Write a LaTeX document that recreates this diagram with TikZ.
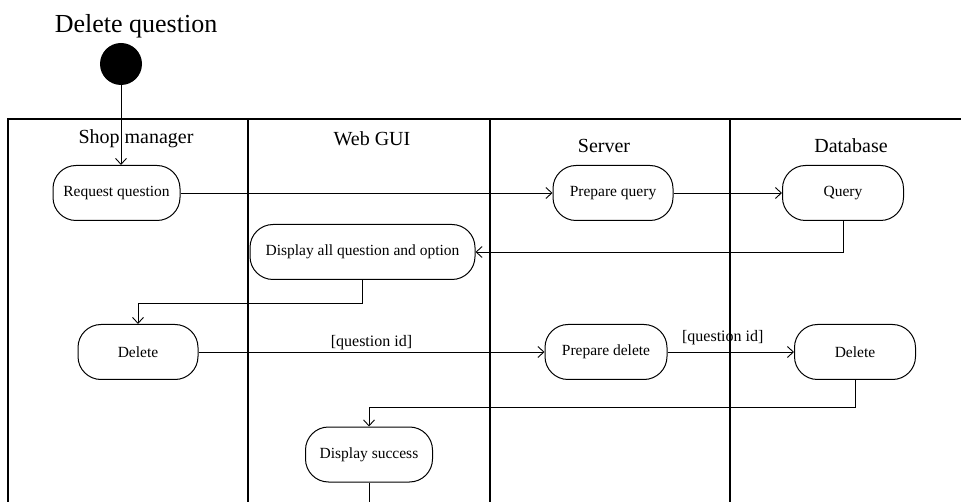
\documentclass[tikz,border=0pt]{standalone}
\usepackage{fontspec}
\setmainfont{Liberation Serif}
\usepackage{tikz}
\usetikzlibrary{arrows.meta,positioning,calc}

\tikzset{
  activity/.style={draw, line width=1pt, rounded corners=23pt, minimum height=55pt, inner sep=2pt, font=\fontsize{15.5}{18}\selectfont},
  lane/.style={line width=1.5pt},
  header/.style={font=\fontsize{20}{24}\selectfont},
  flow/.style={line width=0.9pt, -{Straight Barb[length=6pt,width=11pt]}},
  guard/.style={font=\fontsize{16}{19}\selectfont, inner sep=2pt},
}

\begin{document}
\begin{tikzpicture}[x=10pt, y=-10pt]
        \useasboundingbox (0,0) rectangle (96.1,50.2);
        % Title and start
        \node (title) at (13.6,2.6) {\fontsize{26}{30}\selectfont Delete question};
        \node[circle, fill, minimum size=42pt, inner sep=0pt] (start) at (12.1,6.4) {};
        % Swimlanes
        \draw[lane] (0.8,50.2) -- (0.8,11.9) -- (96.1,11.9);
        \foreach \x in {24.8,49.0,73.0} \draw[lane] (\x,11.9) -- (\x,50.2);
        \node[header] (hshop) at (13.6,13.9) {Shop manager};
        \node[header] (hweb) at (37.2,13.9) {Web GUI};
        \node[header] (hserver) at (60.4,14.6) {Server};
        \node[header] (hdb) at (85.1,14.6) {Database};
        % Activities
        \node[activity, minimum width=127pt] (request) at (11.65,19.3) {Request question};
        \node[activity, minimum width=120pt] (prepquery) at (61.3,19.3) {Prepare query};
        \node[activity, minimum width=121pt] (query) at (84.3,19.3) {Query};
        \node[activity, minimum width=225pt] (display) at (36.25,25.2) {Display all question and option};
        \node[activity, minimum width=120pt] (delshop) at (13.8,35.2) {Delete};
        \node[activity, minimum width=122pt] (prepdelete) at (60.6,35.2) {Prepare delete};
        \node[activity, minimum width=121pt] (deldb) at (85.5,35.2) {Delete};
        \node[activity, minimum width=127pt] (success) at (36.9,45.45) {Display success};
        \coordinate (exit) at (36.9,50.2);
        % Flows
        \draw[flow] (start) -- (start |- request.north);
        \draw[flow] (request) -- (prepquery);
        \draw[flow] (prepquery) -- (query);
        \draw[flow] (query.south) |- (display.east);
        \draw[flow] (display.south) -- ++(0,2.3) -| (delshop.north);
        \draw[flow] (delshop) -- node[guard, above] {[question id]} (prepdelete);
        \draw[flow] (prepdelete) -- node[guard, above, yshift=5pt, xshift=-8pt] {[question id]} (deldb);
        \draw[flow] (deldb.south) -- ++(0,2.7) -| (success.north);
        \draw[line width=0.9pt] (success) -- (exit);
    \end{tikzpicture}
\end{document}
